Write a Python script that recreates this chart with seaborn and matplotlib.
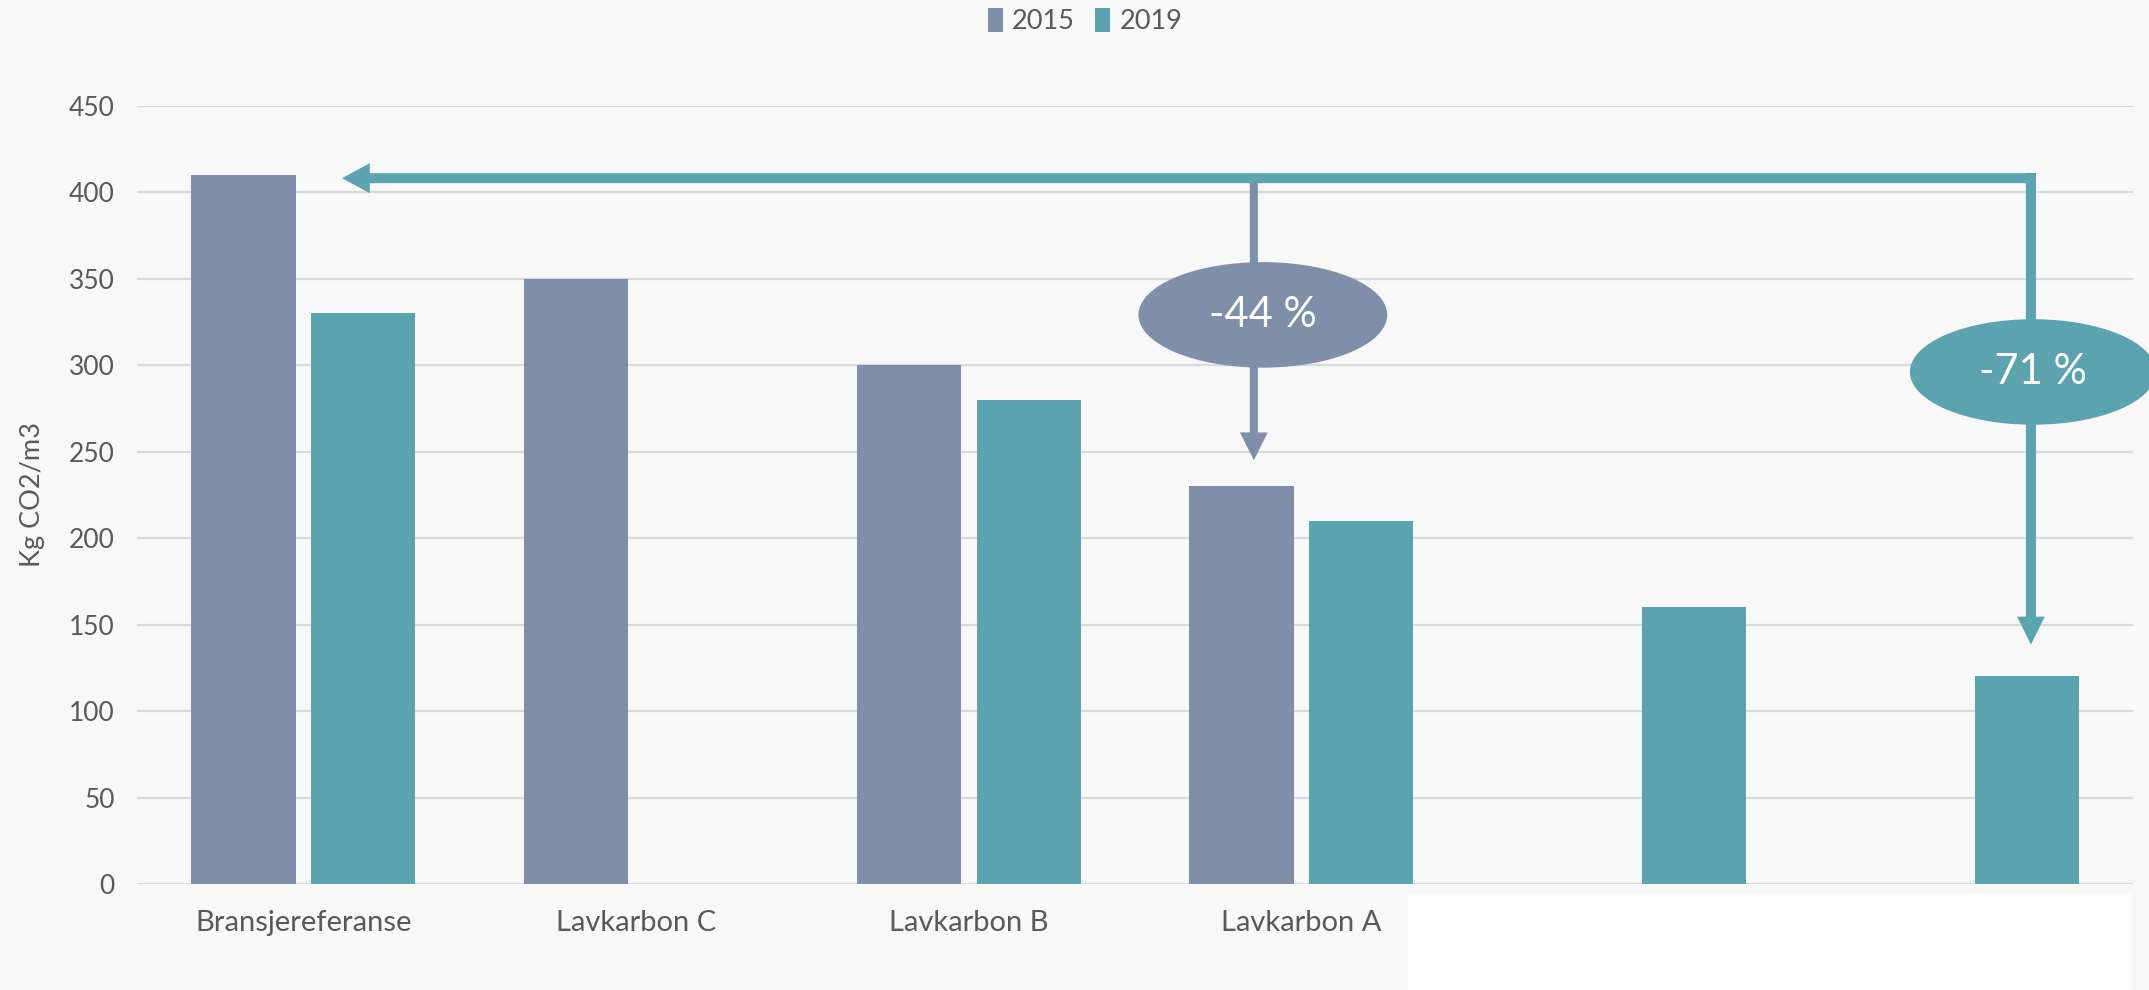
import numpy as np
import pandas as pd
import matplotlib.pyplot as plt
import seaborn as sns
from matplotlib.patches import Ellipse, Rectangle

# data
categories = ["Bransjereferanse", "Lavkarbon C", "Lavkarbon B", "Lavkarbon A", "", " "]
years = ["2015", "2019"]
values_2015 = [410, 350, 300, 230, np.nan, np.nan]
values_2019 = [330, np.nan, 280, 210, 160, 120]
ref_level = 408
change_labels = ["-44 %", "-71 %"]

GRAY = "#7F8FA9"
TEAL = "#5BA3AF"
TXT = "#595959"
BG = "#f8f8f8"

df = pd.DataFrame({
    "kategori": categories * 2,
    "aar": ["2015"] * len(categories) + ["2019"] * len(categories),
    "verdi": values_2015 + values_2019,
})

sns.set_theme(style="white")
plt.rcParams["font.family"] = ["Lato", "DejaVu Sans"]

fig = plt.figure(figsize=(21.49, 9.9), dpi=100, facecolor=BG)
ax = fig.add_axes([0.0638, 0.107, 0.9288, 0.7864])
ax.set_facecolor("none")

sns.barplot(data=df, x="kategori", y="verdi", hue="aar", order=categories,
            hue_order=years, palette=[GRAY, TEAL], saturation=1, width=0.72, gap=0.13,
            linewidth=0, errorbar=None, ax=ax, zorder=2)

ax.set_xlim(-0.5, len(categories) - 0.5)
ax.set_ylim(0, 450)
ax.set_yticks(range(0, 451, 50))
ax.yaxis.grid(True, color="#d9d9d9", linewidth=1.6, zorder=0)
ax.set_axisbelow(True)
for s in ax.spines.values():
    s.set_visible(False)
ax.tick_params(axis="both", length=0, colors=TXT)
ax.tick_params(axis="y", pad=16, labelsize=19)
ax.tick_params(axis="x", pad=19, labelsize=21)
ax.set_xlabel("")
ax.set_ylabel("Kg CO2/m3", fontsize=19.5, color=TXT)
ax.yaxis.set_label_coords(-0.046, 0.5)

# legend at top
handles, labels = ax.get_legend_handles_labels()
ax.legend(handles, labels, loc="center", bbox_to_anchor=(0.505, 0.979),
          bbox_transform=fig.transFigure, ncol=2, frameon=False, fontsize=19.5,
          handlelength=0.55, handleheight=1.0, handletextpad=0.35,
          columnspacing=0.75, labelcolor=TXT)

# arrows
x_gray = 2.857
x_teal = 5.193
arrow_kw = dict(mutation_scale=20, lw=0)
ax.annotate("", xy=(0.116, ref_level), xytext=(x_teal + 0.015, ref_level),
            arrowprops=dict(arrowstyle="simple,head_length=1.0,head_width=1.08,tail_width=0.36",
                            color=TEAL, shrinkA=0, shrinkB=0, **arrow_kw), zorder=4)
ax.annotate("", xy=(x_teal, 138.5), xytext=(x_teal, ref_level + 3),
            arrowprops=dict(arrowstyle="simple,head_length=1.0,head_width=1.0,tail_width=0.36",
                            color=TEAL, shrinkA=0, shrinkB=0, **arrow_kw),
            annotation_clip=False, zorder=4)
ax.annotate("", xy=(x_gray, 245), xytext=(x_gray, ref_level),
            arrowprops=dict(arrowstyle="simple,head_length=1.0,head_width=1.0,tail_width=0.29",
                            color=GRAY, shrinkA=0, shrinkB=0, **arrow_kw), zorder=3)

# ellipses with labels
ax.add_patch(Ellipse((2.884, 329), 0.748, 61, facecolor=GRAY, edgecolor="none",
                     zorder=5, clip_on=False))
ax.text(2.884, 329, change_labels[0], color="white", fontsize=30,
        ha="center", va="center", zorder=6)
ax.add_patch(Ellipse((5.199, 296), 0.74, 61, facecolor=TEAL, edgecolor="none",
                     zorder=5, clip_on=False))
ax.text(5.199, 296, change_labels[1], color="white", fontsize=30,
        ha="center", va="center", zorder=6, clip_on=False)

# white box over the lower right corner
fig.patches.append(Rectangle((0.655, 0.0), 0.3364, 0.098, transform=fig.transFigure,
                             facecolor="white", edgecolor="none", zorder=10))

fig.savefig("out.png", dpi=100, facecolor=fig.get_facecolor())
